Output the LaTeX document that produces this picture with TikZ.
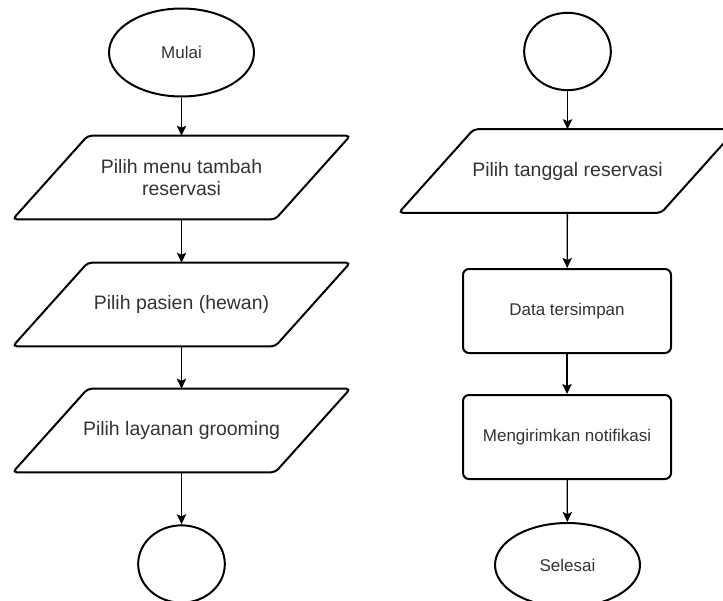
\documentclass[tikz,border=0pt]{standalone}
\usepackage{fontspec}
\setmainfont{Liberation Sans}
\usetikzlibrary{arrows.meta,shapes.geometric}
\begin{document}
\begin{tikzpicture}[x=0.75pt,y=-0.75pt,
	every node/.style={text=black!80, font=\fontsize{12.75}{15}\selectfont},
	terminal/.style={draw=black, line width=1.5pt, ellipse, inner sep=0pt, minimum width=108.75pt, minimum height=66pt},
	connector/.style={draw=black, line width=1.5pt, ellipse, inner sep=0pt, minimum width=65pt, minimum height=58pt},
	inout/.style={rectangle, minimum width=196.5pt, minimum height=62.25pt, inner sep=0pt, align=center, font=\fontsize{14.6}{16.5}\selectfont},
	ioline/.style={draw=black, line width=1.5pt, rounded corners=3pt},
	process/.style={draw=black, line width=1.5pt, rectangle, rounded corners=4.5pt, minimum width=156pt, minimum height=63pt},
	flow/.style={draw=black, line width=1pt, -{Stealth[length=7.5pt,width=7pt,inset=1.5pt]}}]
	\useasboundingbox (0,0) rectangle (723,600);

	\node[terminal] (mulai) at (181.5,52.5) {Mulai};
	\node[inout] (menu) at (181.5,177.5) {Pilih menu tambah\\reservasi};
	\node[inout] (pasien) at (181.5,304.5) {Pilih pasien (hewan)};
	\node[inout] (layanan) at (181.5,430.5) {Pilih layanan grooming};
	\node[connector] (keluar) at (181.5,564) {};

	\node[connector] (masuk) at (567.5,51.5) {};
	\node[inout] (tanggal) at (567.5,171) {Pilih tanggal reservasi};
	\node[process] (simpan) at (567,311) {Data tersimpan};
	\node[process] (notif) at (567,437) {Mengirimkan notifikasi};
	\node[terminal, minimum height=63pt] (selesai) at (567.5,565) {Selesai};

	\foreach \n in {menu,pasien,layanan,tanggal}
		\draw[ioline] ([xshift=28.1pt]\n.north west) -- ([xshift=28.1pt]\n.north east)
			-- ([xshift=-28.1pt]\n.south east) -- ([xshift=-28.1pt]\n.south west) -- cycle;

	\draw[flow] (mulai) -- (menu);
	\draw[flow] (menu) -- (pasien);
	\draw[flow] (pasien) -- (layanan);
	\draw[flow] (layanan) -- (keluar);
	\draw[flow] (masuk) -- (tanggal);
	\draw[flow] (tanggal) -- (simpan);
	\draw[flow] (simpan) -- (notif);
	\draw[flow] (notif) -- (selesai);
\end{tikzpicture}
\end{document}
